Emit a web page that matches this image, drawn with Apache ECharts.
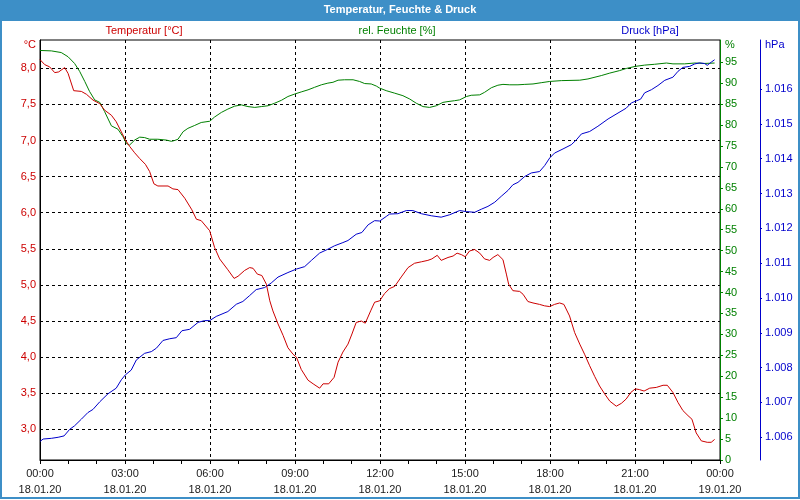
<!DOCTYPE html>
<html>
<head>
<meta charset="utf-8">
<script src="https://cdn.jsdelivr.net/npm/echarts@6/dist/echarts.min.js"></script>
<style>html,body{margin:0;padding:0;background:#fff}#c{width:800px;height:500px}</style>
</head>
<body>
<div id="c"></div>
<script>
const FONT = "'Liberation Sans Narrow', 'Liberation Sans', sans-serif";
const titleText = 'Temperatur, Feuchte & Druck';
const legendTemp = 'Temperatur [°C]';
const legendHum = 'rel. Feuchte [%]';
const legendPress = 'Druck [hPa]';

const timeLabels = ['00:00','03:00','06:00','09:00','12:00','15:00','18:00','21:00','00:00'];
const dateLabels = ['18.01.20','18.01.20','18.01.20','18.01.20','18.01.20','18.01.20','18.01.20','18.01.20','19.01.20'];
const tempTicks = [3.0,3.5,4.0,4.5,5.0,5.5,6.0,6.5,7.0,7.5,8.0];
const humTicks = [0,5,10,15,20,25,30,35,40,45,50,55,60,65,70,75,80,85,90,95];
const pressTicks = [1006,1007,1008,1009,1010,1011,1012,1013,1014,1015,1016];

// [hour, °C]
const temperature = [[0,8.12],[0.17,8.05],[0.34,8.02],[0.52,7.94],[0.66,7.95],[0.87,8.01],[0.99,7.93],[1.19,7.69],[1.46,7.68],[1.64,7.64],[1.87,7.56],[2.11,7.51],[2.28,7.42],[2.52,7.35],[2.69,7.26],[2.87,7.12],[3.01,7.01],[3.16,6.92],[3.34,6.83],[3.52,6.75],[3.72,6.67],[3.87,6.57],[4.02,6.40],[4.16,6.37],[4.52,6.37],[4.69,6.33],[4.87,6.32],[5.11,6.20],[5.36,6.04],[5.52,5.91],[5.69,5.89],[5.99,5.75],[6.16,5.52],[6.34,5.36],[6.63,5.21],[6.85,5.09],[6.99,5.12],[7.22,5.20],[7.40,5.24],[7.52,5.23],[7.67,5.15],[7.83,5.13],[7.99,5.01],[8.11,4.78],[8.22,4.64],[8.40,4.46],[8.58,4.30],[8.75,4.13],[8.93,4.04],[9.05,4.00],[9.22,3.83],[9.46,3.68],[9.64,3.63],[9.87,3.57],[9.99,3.63],[10.19,3.63],[10.38,3.72],[10.52,3.93],[10.69,4.07],[10.87,4.18],[11.01,4.32],[11.16,4.48],[11.34,4.50],[11.48,4.47],[11.67,4.64],[11.81,4.76],[11.99,4.78],[12.16,4.88],[12.34,4.95],[12.52,4.98],[12.75,5.11],[12.99,5.24],[13.22,5.30],[13.46,5.32],[13.69,5.34],[13.83,5.36],[14.02,5.41],[14.16,5.34],[14.40,5.38],[14.58,5.40],[14.72,5.44],[14.87,5.42],[15.01,5.39],[15.16,5.47],[15.34,5.49],[15.52,5.44],[15.69,5.36],[15.87,5.34],[15.99,5.38],[16.16,5.42],[16.34,5.35],[16.46,5.15],[16.54,5.01],[16.69,4.92],[16.93,4.91],[17.05,4.87],[17.22,4.77],[17.40,4.75],[17.63,4.73],[17.81,4.71],[17.99,4.70],[18.16,4.73],[18.34,4.75],[18.49,4.73],[18.69,4.57],[18.87,4.34],[19.05,4.18],[19.22,4.04],[19.40,3.88],[19.58,3.73],[19.75,3.60],[19.93,3.49],[20.11,3.39],[20.34,3.32],[20.52,3.36],[20.69,3.42],[20.85,3.51],[21.01,3.56],[21.16,3.55],[21.32,3.53],[21.52,3.57],[21.75,3.58],[21.99,3.61],[22.14,3.61],[22.34,3.51],[22.52,3.37],[22.69,3.26],[22.87,3.19],[23.01,3.14],[23.16,2.95],[23.34,2.84],[23.55,2.82],[23.69,2.82],[23.81,2.86]];

// [hour, %]
const humidity = [[0,97.8],[0.4,97.7],[0.75,97.3],[0.99,96.3],[1.22,94.7],[1.40,92.8],[1.58,90.4],[1.75,88.0],[1.93,86.0],[2.11,85.4],[2.28,83.2],[2.52,79.8],[2.75,79.0],[2.93,77.2],[3.05,75.6],[3.16,75.2],[3.34,76.4],[3.52,77.1],[3.69,77.0],[3.87,76.6],[4.16,76.6],[4.46,76.4],[4.64,76.1],[4.75,76.3],[4.87,76.6],[5.05,78.4],[5.22,79.2],[5.46,79.9],[5.69,80.6],[5.99,80.9],[6.16,81.9],[6.40,83.0],[6.63,83.8],[6.87,84.5],[7.11,84.8],[7.34,84.4],[7.58,84.2],[7.81,84.4],[8.05,84.6],[8.28,85.2],[8.52,85.9],[8.75,86.8],[8.99,87.4],[9.22,87.9],[9.46,88.4],[9.69,89.0],[9.93,89.6],[10.16,90.0],[10.34,90.2],[10.52,90.7],[10.75,90.8],[11.05,90.8],[11.28,90.4],[11.46,89.9],[11.69,89.8],[11.87,89.3],[11.99,88.8],[12.22,88.2],[12.52,87.6],[12.81,87.0],[13.05,86.2],[13.28,85.2],[13.52,84.4],[13.75,84.2],[13.99,84.6],[14.22,85.4],[14.40,85.6],[14.63,85.8],[14.81,86.0],[15.05,86.8],[15.22,87.1],[15.52,87.2],[15.69,87.8],[15.93,88.9],[16.16,89.5],[16.34,89.7],[16.58,89.6],[16.87,89.6],[17.11,89.7],[17.40,89.8],[17.69,90.1],[17.99,90.4],[18.40,90.6],[19.05,90.7],[19.34,91.0],[19.81,91.8],[20.11,92.4],[20.46,93.0],[20.69,93.5],[21.01,94.0],[21.34,94.3],[21.69,94.5],[22.11,94.8],[22.34,94.6],[22.75,94.6],[23.11,94.8],[23.46,94.7],[23.81,94.8]];

// [hour, hPa]
const pressure = [[0,1005.88],[0.11,1005.95],[0.40,1005.97],[0.64,1006.0],[0.85,1006.04],[1.05,1006.23],[1.22,1006.33],[1.46,1006.52],[1.69,1006.71],[1.87,1006.80],[2.11,1007.02],[2.40,1007.25],[2.69,1007.41],[2.87,1007.65],[3.01,1007.79],[3.22,1007.93],[3.40,1008.22],[3.69,1008.41],[3.93,1008.46],[4.11,1008.56],[4.34,1008.78],[4.58,1008.83],[4.81,1008.86],[5.01,1009.06],[5.28,1009.10],[5.58,1009.30],[5.81,1009.35],[5.99,1009.35],[6.22,1009.47],[6.63,1009.61],[6.93,1009.82],[7.16,1009.90],[7.40,1010.07],[7.63,1010.24],[7.93,1010.30],[8.16,1010.43],[8.40,1010.60],[8.75,1010.73],[9.05,1010.83],[9.34,1010.90],[9.58,1011.08],[9.87,1011.29],[10.16,1011.40],[10.40,1011.50],[10.69,1011.59],[10.87,1011.65],[11.16,1011.83],[11.36,1011.88],[11.58,1012.10],[11.81,1012.22],[11.99,1012.21],[12.22,1012.34],[12.34,1012.41],[12.63,1012.42],[12.93,1012.51],[13.16,1012.51],[13.46,1012.42],[13.81,1012.36],[14.16,1012.32],[14.46,1012.39],[14.81,1012.51],[15.05,1012.48],[15.34,1012.46],[15.58,1012.55],[15.81,1012.63],[16.05,1012.75],[16.28,1012.92],[16.52,1013.09],[16.69,1013.25],[16.87,1013.32],[17.11,1013.49],[17.34,1013.59],[17.63,1013.63],[17.81,1013.80],[17.99,1014.02],[18.16,1014.16],[18.46,1014.28],[18.75,1014.40],[18.93,1014.54],[19.11,1014.71],[19.40,1014.78],[19.69,1014.93],[20.05,1015.14],[20.40,1015.31],[20.69,1015.45],[20.87,1015.60],[21.05,1015.66],[21.20,1015.71],[21.34,1015.89],[21.58,1015.98],[21.81,1016.10],[22.05,1016.25],[22.34,1016.34],[22.52,1016.51],[22.69,1016.62],[22.93,1016.65],[23.11,1016.72],[23.28,1016.75],[23.46,1016.73],[23.55,1016.68],[23.69,1016.77],[23.81,1016.84]];

const RED = '#cc0000', GREEN = '#008000', BLUE = '#0000cc', FRAME = '#3d8fc7';
const dashed = { color: '#000', type: [3, 3], width: 1 };

const chart = echarts.init(document.getElementById('c'), null, { renderer: 'canvas' });
chart.setOption({
  animation: false,
  backgroundColor: '#fff',
  textStyle: { fontFamily: FONT },
  grid: { left: 40, right: 80, top: 40, bottom: 40, show: true, borderColor: '#000', borderWidth: 1, backgroundColor: 'transparent' },
  graphic: [
    { type: 'rect', shape: { x: 0, y: 0, width: 800, height: 21 }, style: { fill: FRAME }, silent: true },
    { type: 'rect', shape: { x: 1, y: 1, width: 798, height: 497 }, style: { fill: 'none', stroke: FRAME, lineWidth: 2 }, silent: true },
    { type: 'text', x: 400, y: 10, style: { text: titleText, fill: '#fff', font: "bold 11px " + FONT, textAlign: 'center', textVerticalAlign: 'middle' } },
    { type: 'text', x: 144, y: 31, style: { text: legendTemp, fill: RED, font: "11px " + FONT, textAlign: 'center', textVerticalAlign: 'middle' } },
    { type: 'text', x: 397, y: 31, style: { text: legendHum, fill: GREEN, font: "11px " + FONT, textAlign: 'center', textVerticalAlign: 'middle' } },
    { type: 'text', x: 650, y: 31, style: { text: legendPress, fill: BLUE, font: "11px " + FONT, textAlign: 'center', textVerticalAlign: 'middle' } }
  ],
  xAxis: {
    type: 'value', min: 0, max: 24, interval: 3,
    axisLine: { show: true, onZero: false, lineStyle: { color: '#000', width: 1 } },
    axisTick: { show: true, length: 4, lineStyle: { color: '#000' } },
    minorTick: { show: true, splitNumber: 3, length: 4, lineStyle: { color: '#000' } },
    splitLine: { show: true, lineStyle: dashed },
    axisLabel: {
      color: '#1a1a1a', fontSize: 11, fontFamily: FONT, lineHeight: 16, margin: 6,
      formatter: function (v) { const i = Math.round(v / 3); return timeLabels[i] + '\n' + dateLabels[i]; }
    }
  },
  yAxis: [
    {
      type: 'value', position: 'left', min: 2.575, max: 8.392, splitNumber: 12,
      name: '°C', nameLocation: 'end', nameGap: -5,
      nameTextStyle: { color: RED, fontSize: 11, fontFamily: FONT, align: 'right', verticalAlign: 'middle', padding: [0, 4, 0, 0] },
      axisLine: { show: true, lineStyle: { color: '#000' } },
      axisTick: { show: false, customValues: tempTicks },
      axisLabel: { customValues: tempTicks, color: RED, fontSize: 11, fontFamily: FONT, margin: 4,
        formatter: function (v) { return v.toFixed(1).replace('.', ','); } },
      splitLine: { show: true, lineStyle: dashed }
    },
    {
      type: 'value', position: 'right', offset: 0, min: 0, max: 100.3,
      name: '%', nameLocation: 'end', nameGap: -5,
      nameTextStyle: { color: GREEN, fontSize: 11, fontFamily: FONT, align: 'left', verticalAlign: 'middle', padding: [0, 0, 0, 5] },
      axisLine: { show: true, lineStyle: { color: GREEN, width: 1 } },
      axisTick: { show: true, length: 3, customValues: humTicks, lineStyle: { color: GREEN } },
      axisLabel: { customValues: humTicks, color: GREEN, fontSize: 11, fontFamily: FONT, margin: 5 },
      splitLine: { show: false }
    },
    {
      type: 'value', position: 'right', offset: 40, min: 1005.348, max: 1017.407,
      name: 'hPa', nameLocation: 'end', nameGap: -5,
      nameTextStyle: { color: BLUE, fontSize: 11, fontFamily: FONT, align: 'left', verticalAlign: 'middle', padding: [0, 0, 0, 5] },
      axisLine: { show: true, lineStyle: { color: BLUE, width: 1 } },
      axisTick: { show: true, length: 2, customValues: pressTicks, lineStyle: { color: BLUE } },
      axisLabel: { customValues: pressTicks, color: BLUE, fontSize: 11, fontFamily: FONT, margin: 5,
        formatter: function (v) { return (v / 1000).toFixed(3); } },
      splitLine: { show: false }
    }
  ],
  series: [
    { name: legendHum, type: 'line', yAxisIndex: 1, data: humidity, showSymbol: false, lineStyle: { color: GREEN, width: 1 }, itemStyle: { color: GREEN } },
    { name: legendPress, type: 'line', yAxisIndex: 2, data: pressure, showSymbol: false, lineStyle: { color: BLUE, width: 1 }, itemStyle: { color: BLUE } },
    { name: legendTemp, type: 'line', yAxisIndex: 0, data: temperature, showSymbol: false, lineStyle: { color: RED, width: 1 }, itemStyle: { color: RED } }
  ]
});
</script>
</body>
</html>
